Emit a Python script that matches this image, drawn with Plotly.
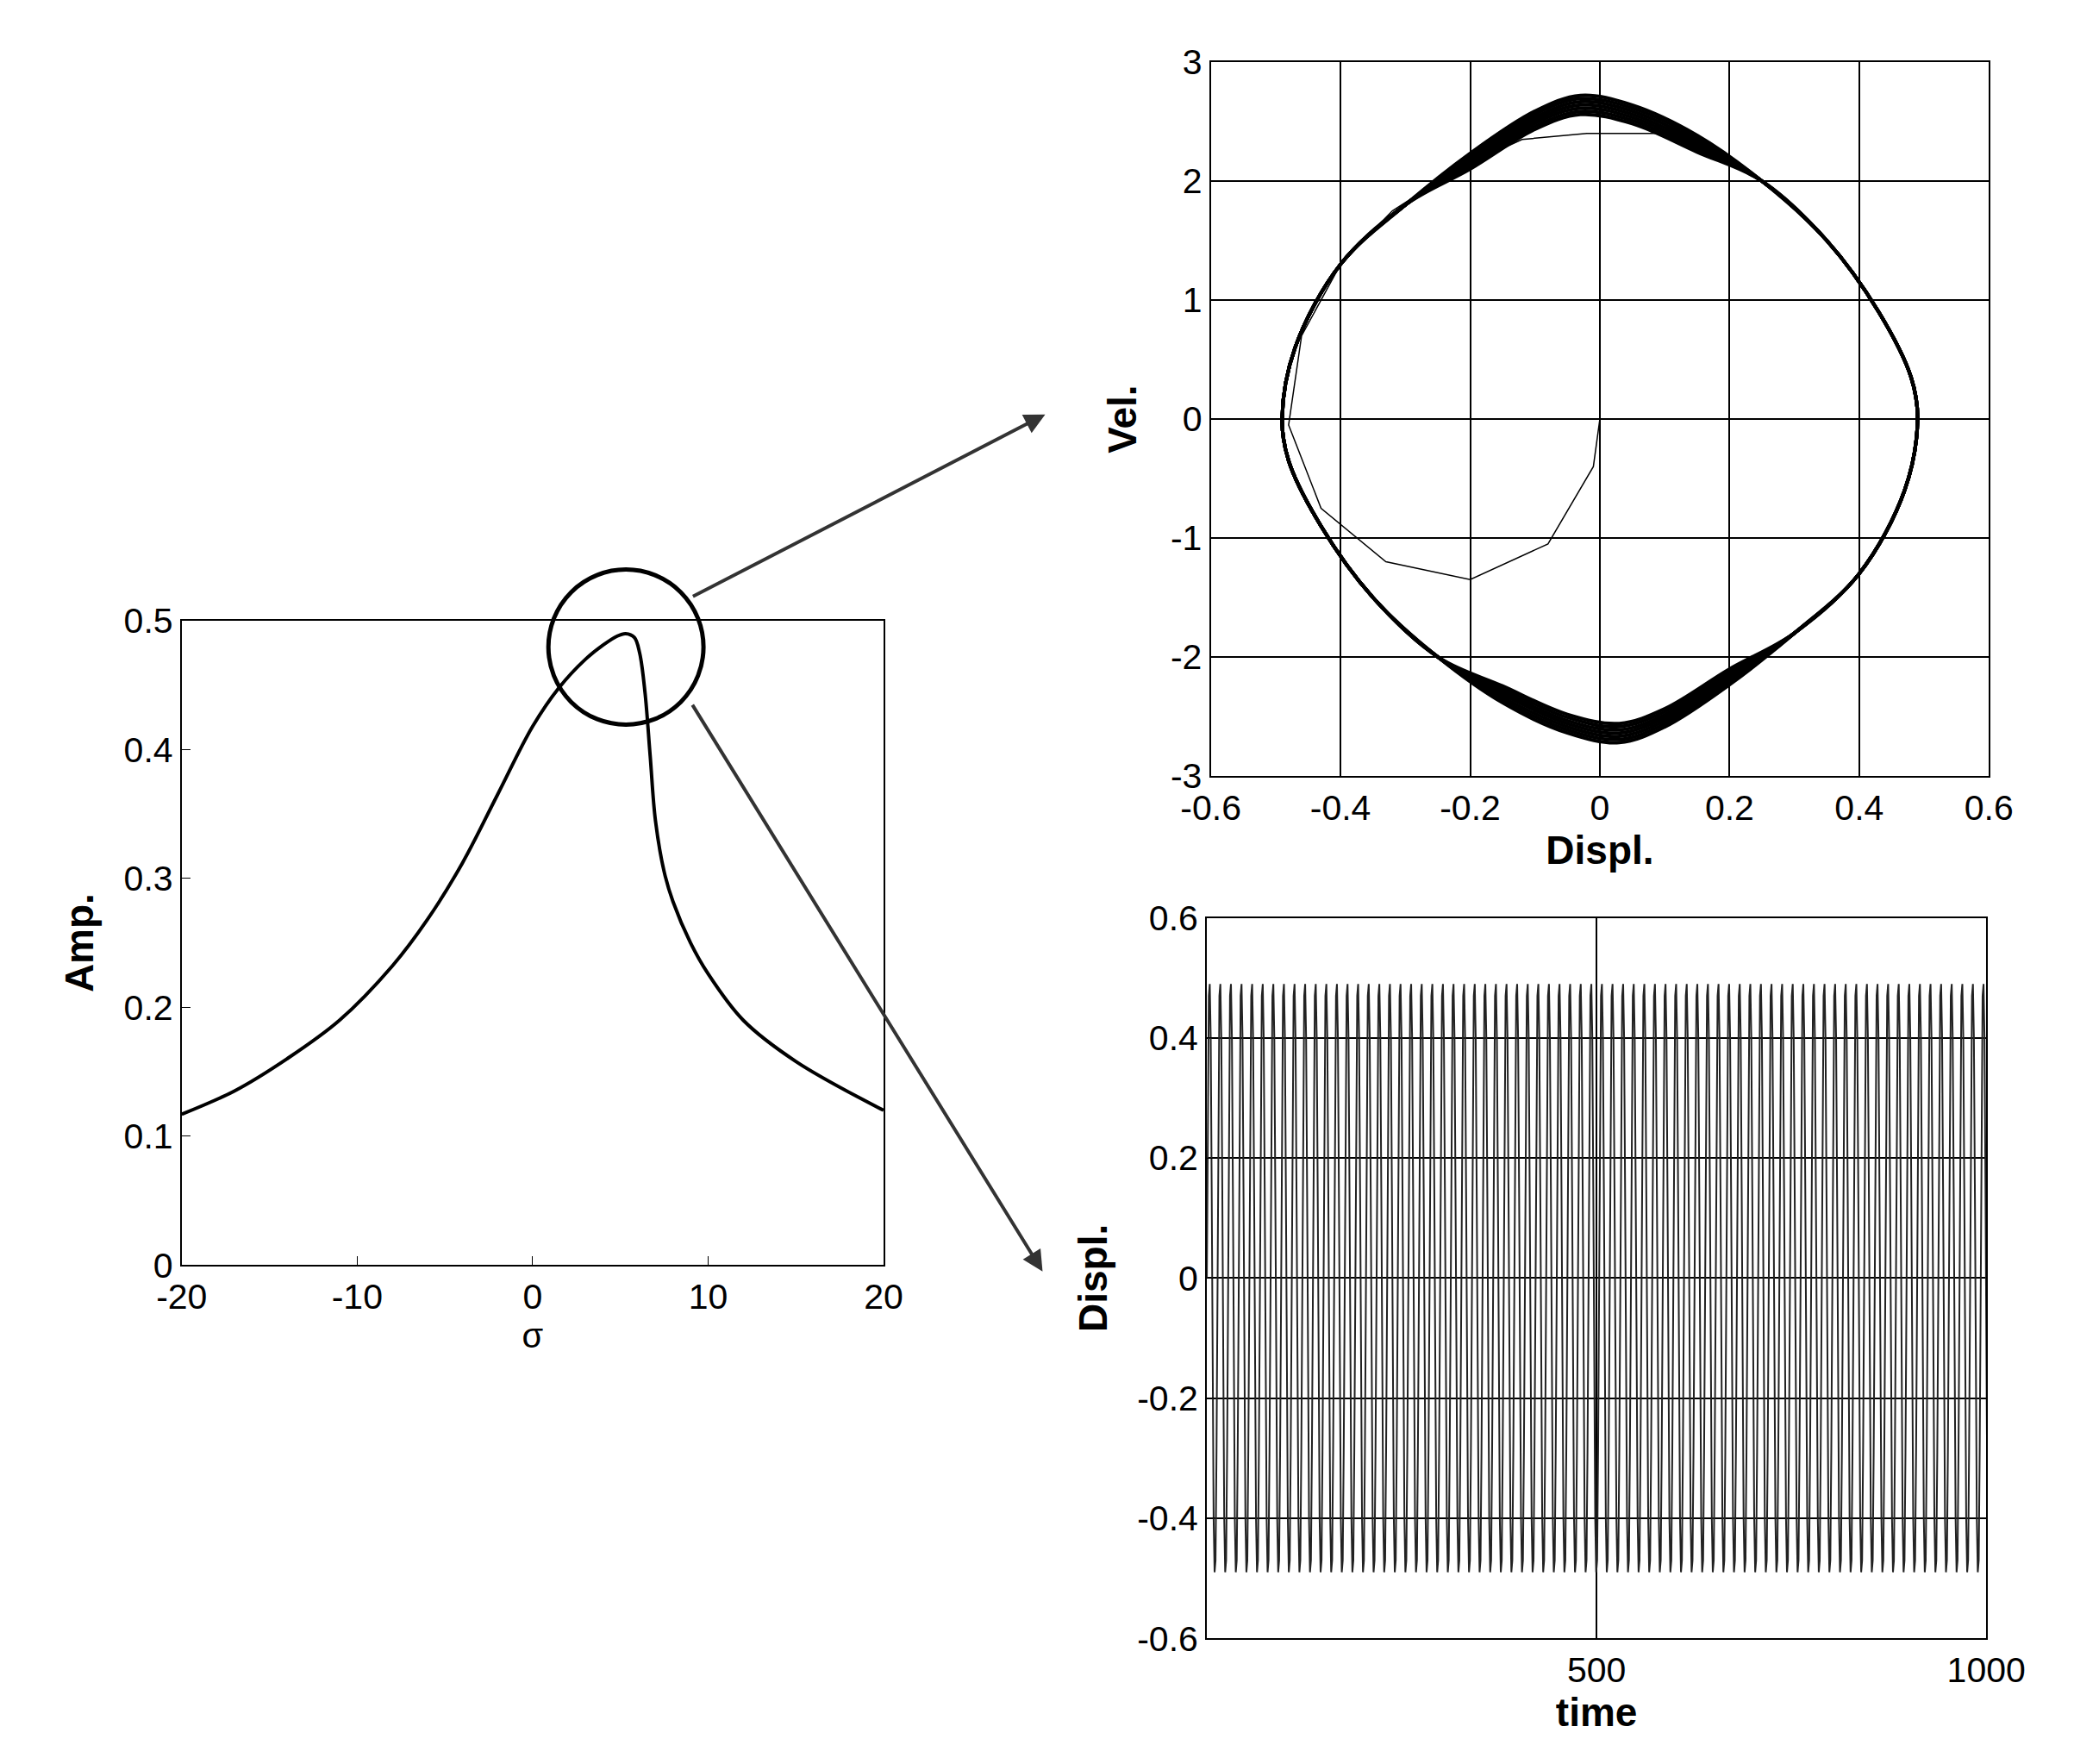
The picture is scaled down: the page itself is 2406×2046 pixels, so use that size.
import numpy as np
import plotly.graph_objects as go

W, H = 2406, 2046
S = W / 1578.0  # reference coordinates were read at ~1578px wide

# amplitude-frequency response
sigma = [-20, -17, -14, -11, -8, -6, -4, -2, 0, 1.5, 3, 4, 4.8, 5.3, 5.8, 6.1, 6.4, 6.7, 7.0, 7.5, 8, 9, 10, 12, 15, 20]
amp = [0.117, 0.135, 0.160, 0.190, 0.232, 0.268, 0.312, 0.365, 0.418, 0.448, 0.470, 0.481, 0.488, 0.490, 0.487, 0.475, 0.445, 0.395, 0.345, 0.305, 0.282, 0.250, 0.226, 0.190, 0.158, 0.120]

# phase portrait: limit cycle
cyc_x = [0.49, 0.47, 0.40, 0.30, 0.20, 0.10, 0.03, -0.05, -0.15, -0.25, -0.35, -0.43, -0.48, -0.49,
         -0.47, -0.40, -0.30, -0.20, -0.10, -0.03, 0.05, 0.15, 0.25, 0.35, 0.43, 0.48, 0.49]
cyc_v = [0.0, -0.6, -1.3, -1.8, -2.2, -2.55, -2.68, -2.6, -2.35, -2.0, -1.5, -0.9, -0.35, 0.0,
         0.6, 1.3, 1.8, 2.2, 2.55, 2.68, 2.6, 2.35, 2.0, 1.5, 0.9, 0.35, 0.0]
band = [0.955, 0.965, 0.975, 0.985, 0.995, 1.005, 1.015]  # slow drift of the loop near the extremes
# transient from rest
tr_x = [0.0, -0.01, -0.08, -0.20, -0.33, -0.43, -0.48, -0.46, -0.40, -0.32, -0.22, -0.12, -0.02, 0.10, 0.20]
tr_v = [0.0, -0.40, -1.05, -1.35, -1.20, -0.75, -0.05, 0.70, 1.30, 1.75, 2.10, 2.35, 2.40, 2.40, 2.20]

# time history: one cycle shape, period and amplitude
period = 13.6
cycle_shape = [0.0, 0.29, 0.47, 0.49, 0.40, 0.15, -0.15, -0.40, -0.49, -0.47, -0.29, 0.0]

fig = go.Figure()

fig.add_trace(go.Scatter(x=sigma, y=amp, mode="lines", line=dict(color="black", width=4, shape="spline"),
                         xaxis="x", yaxis="y"))

for k in band:
    fig.add_trace(go.Scatter(x=cyc_x, y=[v * (k if abs(v) > 2 else 1) for v in cyc_v], mode="lines",
                             line=dict(color="black", width=4, shape="spline"), xaxis="x2", yaxis="y2"))
fig.add_trace(go.Scatter(x=tr_x, y=tr_v, mode="lines", line=dict(color="black", width=1.5),
                         xaxis="x2", yaxis="y2"))

n_cyc = int(1000 / period) + 1
t, d = [], []
phase = np.linspace(0, 1, len(cycle_shape))
for c in range(n_cyc):
    for p, val in zip(phase[:-1], cycle_shape[:-1]):
        t.append((c + p) * period)
        d.append(val)
fig.add_trace(go.Scatter(x=t, y=d, mode="lines", line=dict(color="#222222", width=2),
                         xaxis="x3", yaxis="y3"))

def px(x, y):
    return x * S / W, 1 - y * S / H

def lab(vals, fmt):
    return [("0" if v == 0 else fmt.format(v)) for v in vals]

font = dict(family="Liberation Sans, Arial", size=41, color="black")
tfont = dict(family="Liberation Sans, Arial", size=46, color="black", weight="bold")
ax_common = dict(showline=True, mirror=True, linecolor="black", linewidth=2, ticks="inside",
                 ticklen=10, tickcolor="black", tickfont=font, zeroline=False, automargin=False)

x0, y1 = px(133, 467); x1, y0 = px(667, 957)
a0, b1 = px(916, 42); a1, b0 = px(1508, 585)
c0, d1 = px(913, 693); c1, d0 = px(1506, 1241)

t1 = [-20, -10, 0, 10, 20]
t2 = [0, 0.1, 0.2, 0.3, 0.4, 0.5]
t3 = [-0.6, -0.4, -0.2, 0, 0.2, 0.4, 0.6]
t4 = [-3, -2, -1, 0, 1, 2, 3]

fig.update_layout(
    width=W, height=H, margin=dict(l=0, r=0, t=0, b=0), showlegend=False,
    plot_bgcolor="white", paper_bgcolor="white",
    xaxis=dict(domain=[x0, x1], range=[-20, 20], tickvals=t1, ticktext=lab(t1, "{:g}"), showgrid=False,
               anchor="y", title=dict(text="σ", font=dict(family="Liberation Sans", size=40, color="black"),
                                      standoff=0), **ax_common),
    yaxis=dict(domain=[y0, y1], range=[0, 0.5], tickvals=t2, ticktext=lab(t2, "{:.1f}"), showgrid=False,
               anchor="x", title=dict(text="Amp.", font=tfont, standoff=20), **ax_common),
    xaxis2=dict(domain=[a0, a1], range=[-0.6, 0.6], tickvals=t3, ticktext=lab(t3, "{:.1f}"), showgrid=True,
                gridcolor="black", gridwidth=1.5, anchor="y2",
                title=dict(text="Displ.", font=tfont, standoff=5), **ax_common),
    yaxis2=dict(domain=[b0, b1], range=[-3, 3], tickvals=t4, ticktext=lab(t4, "{:g}"), showgrid=True,
                gridcolor="black", gridwidth=1.5, anchor="x2",
                title=dict(text="Vel.", font=tfont, standoff=25), **ax_common),
    xaxis3=dict(domain=[c0, c1], range=[0, 1000], tickvals=[500, 1000], showgrid=True, gridcolor="black",
                gridwidth=1.5, anchor="y3", title=dict(text="time", font=tfont, standoff=5), **ax_common),
    yaxis3=dict(domain=[d0, d1], range=[-0.6, 0.6], tickvals=t3, ticktext=lab(t3, "{:.1f}"), showgrid=True,
                gridcolor="black", gridwidth=1.5, anchor="x3",
                title=dict(text="Displ.", font=tfont, standoff=20), **ax_common),
)

# circle around the peak
cx, cy, r = 471, 487, 59
ex0, ey1 = px(cx - r, cy - r); ex1, ey0 = px(cx + r, cy + r)
fig.add_shape(type="circle", xref="paper", yref="paper", x0=ex0, x1=ex1, y0=ey0, y1=ey1,
              line=dict(color="black", width=5))

for (sx, sy), (tx, ty) in [((521, 449), (790, 310)), ((521, 530), (788, 962))]:
    hx, hy = px(tx, ty)
    fig.add_annotation(x=hx, y=hy, ax=(sx - tx) * S, ay=(sy - ty) * S, xref="paper", yref="paper",
                       axref="pixel", ayref="pixel", showarrow=True, arrowhead=2, arrowsize=1.2,
                       arrowwidth=4, arrowcolor="#333333", text="")

fig.write_html("out.html")
